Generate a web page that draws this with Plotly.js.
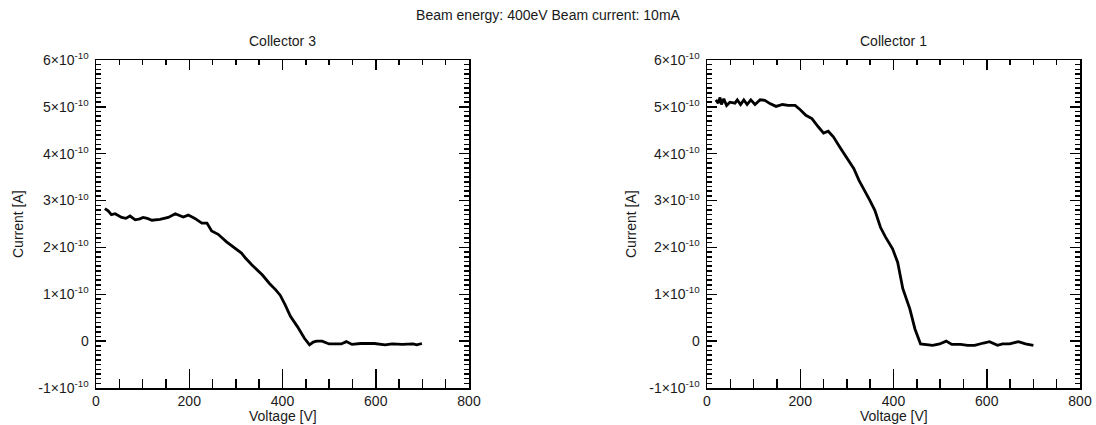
<!DOCTYPE html>
<html><head><meta charset="utf-8">
<script src="https://cdn.plot.ly/plotly-3.0.1.min.js"></script>
<style>html,body{margin:0;padding:0;background:#fff}</style>
</head><body><div id="chart" style="width:1096px;height:425px"></div>
<script>
// Values; current given in units of 1e-10 A (axis labels carry the ×10^-10)
const voltage3 = [19,26,33,41,55,64,73,84,94,101,110,120,137,155,170,187,198,212,227,238,248,262,280,295,312,320,334,357,372,385,395,406,417,432,447,458,466,473,485,500,526,537,549,567,597,620,635,657,680,688,699];
const current3 = [2.83,2.78,2.70,2.72,2.64,2.62,2.67,2.59,2.61,2.64,2.62,2.58,2.60,2.64,2.72,2.65,2.69,2.62,2.52,2.52,2.35,2.28,2.12,2.01,1.88,1.78,1.63,1.41,1.23,1.10,0.98,0.77,0.53,0.31,0.06,-0.08,-0.02,0.0,0.0,-0.06,-0.06,-0.01,-0.07,-0.05,-0.05,-0.08,-0.06,-0.07,-0.06,-0.08,-0.05];
const voltage1 = [19,24,28,31,36,42,49,60,65,72,79,86,94,103,114,124,135,148,162,174,189,200,212,225,239,250,260,271,285,299,315,326,338,349,360,372,383,398,409,420,435,446,458,469,484,499,513,525,544,559,574,593,606,623,634,649,668,683,700];
const current1 = [5.15,5.08,5.20,5.05,5.17,5.03,5.10,5.08,5.15,5.05,5.15,5.05,5.15,5.05,5.15,5.14,5.07,5.01,5.05,5.03,5.03,4.94,4.82,4.75,4.57,4.44,4.48,4.36,4.14,3.93,3.68,3.43,3.22,3.01,2.79,2.43,2.22,1.97,1.68,1.12,0.69,0.26,-0.06,-0.07,-0.09,-0.06,0.0,-0.07,-0.07,-0.09,-0.09,-0.04,-0.01,-0.09,-0.06,-0.06,-0.01,-0.06,-0.09];
const yTickUnits = [-1,0,1,2,3,4,5,6];
const mainTitle = 'Beam energy: 400eV Beam current: 10mA';
const panelTitles = ['Collector 3','Collector 1'];
const xTitle = 'Voltage [V]';
const yTitle = 'Current [A]';

const FONT = '"Liberation Sans", Arial, Helvetica, sans-serif';
const TXT = '#1a1a1a';
const TW = 1.5;
const yTickText = yTickUnits.map(v => v === 0 ? '0' : v + '×10<sup>-10</sup>');

const W = 1096, H = 425;
const xDom1 = [96 / W, 469 / W];
const xDom2 = [707 / W, 1080 / W];
const yDom = [(H - 388) / H, (H - 60) / H];

function xAxisBottom(dom, anchor) {
  return {
    domain: dom, anchor: anchor, range: [0, 800],
    tickmode: 'linear', tick0: 0, dtick: 200,
    ticks: 'inside', ticklen: 19, tickwidth: TW, tickcolor: '#000',
    minor: {dtick: 50, ticks: 'inside', ticklen: 9, tickwidth: TW, tickcolor: '#000'},
    showline: true, linecolor: '#000', linewidth: TW,
    showgrid: false, zeroline: false,
    tickfont: {family: FONT, size: 14, color: TXT},
    fixedrange: true
  };
}
function xAxisTop(over, anchor) {
  return {
    overlaying: over, anchor: anchor, side: 'top', range: [0, 800],
    tickmode: 'linear', tick0: 0, dtick: 200, showticklabels: false,
    ticks: 'inside', ticklen: 10, tickwidth: TW, tickcolor: '#000',
    minor: {dtick: 50, ticks: 'inside', ticklen: 5, tickwidth: TW, tickcolor: '#000'},
    showline: true, linecolor: '#000', linewidth: TW,
    showgrid: false, zeroline: false, fixedrange: true
  };
}
function yAxisMain(anchor) {
  return {
    domain: yDom, anchor: anchor, range: [-1, 6],
    tickmode: 'array', tickvals: yTickUnits, ticktext: yTickText,
    ticks: 'inside', ticklen: 10, tickwidth: TW, tickcolor: '#000',
    showline: true, linecolor: '#000', linewidth: TW, mirror: 'ticks',
    showgrid: false, zeroline: false,
    tickfont: {family: FONT, size: 14, color: TXT},
    ticklabelstandoff: 3,
    fixedrange: true
  };
}
function yAxisMinor(over, anchor) {
  return {
    overlaying: over, anchor: anchor, side: 'left', range: [-1, 6],
    tickmode: 'linear', tick0: 0, dtick: 0.1, showticklabels: false,
    ticks: 'inside', ticklen: 5, tickwidth: TW, tickcolor: '#000',
    showline: false, mirror: 'ticks',
    showgrid: false, zeroline: false, fixedrange: true
  };
}

const lineStyle = {color: '#000', width: 2.8};
const traces = [
  {x: voltage3, y: current3, xaxis: 'x', yaxis: 'y', mode: 'lines', line: lineStyle, showlegend: false, hoverinfo: 'skip'},
  {x: voltage1, y: current1, xaxis: 'x2', yaxis: 'y2', mode: 'lines', line: lineStyle, showlegend: false, hoverinfo: 'skip'},
  {x: [], y: [], xaxis: 'x3', yaxis: 'y3', showlegend: false},
  {x: [], y: [], xaxis: 'x4', yaxis: 'y4', showlegend: false}
];

const ann = [];
const centers = [(xDom1[0] + xDom1[1]) / 2, (xDom2[0] + xDom2[1]) / 2];
panelTitles.forEach((t, i) => {
  ann.push({text: t, xref: 'paper', yref: 'paper', x: centers[i], y: (H - 41) / H, xanchor: 'center', yanchor: 'middle', showarrow: false, font: {family: FONT, size: 14, color: TXT}});
  ann.push({text: xTitle, xref: 'paper', yref: 'paper', x: centers[i], y: (H - 416) / H, xanchor: 'center', yanchor: 'middle', showarrow: false, font: {family: FONT, size: 14, color: TXT}});
});
[18, 631].forEach(px => {
  ann.push({text: yTitle, xref: 'paper', yref: 'paper', x: px / W, y: (yDom[0] + yDom[1]) / 2, xanchor: 'center', yanchor: 'middle', textangle: -90, showarrow: false, font: {family: FONT, size: 14, color: TXT}});
});

const layout = {
  width: W, height: H,
  margin: {l: 0, r: 0, t: 0, b: 0},
  paper_bgcolor: '#fff', plot_bgcolor: '#fff',
  title: {text: mainTitle, x: 0.5, xanchor: 'center', y: 1 - 15 / H, yanchor: 'middle', font: {family: FONT, size: 14, color: TXT}},
  xaxis: xAxisBottom(xDom1, 'y'),
  xaxis2: xAxisBottom(xDom2, 'y2'),
  xaxis3: xAxisTop('x', 'y'),
  xaxis4: xAxisTop('x2', 'y2'),
  yaxis: yAxisMain('x'),
  yaxis2: yAxisMain('x2'),
  yaxis3: yAxisMinor('y', 'x'),
  yaxis4: yAxisMinor('y2', 'x2'),
  annotations: ann,
  showlegend: false
};

Plotly.newPlot('chart', traces, layout, {staticPlot: true, displayModeBar: false});
</script></body></html>
